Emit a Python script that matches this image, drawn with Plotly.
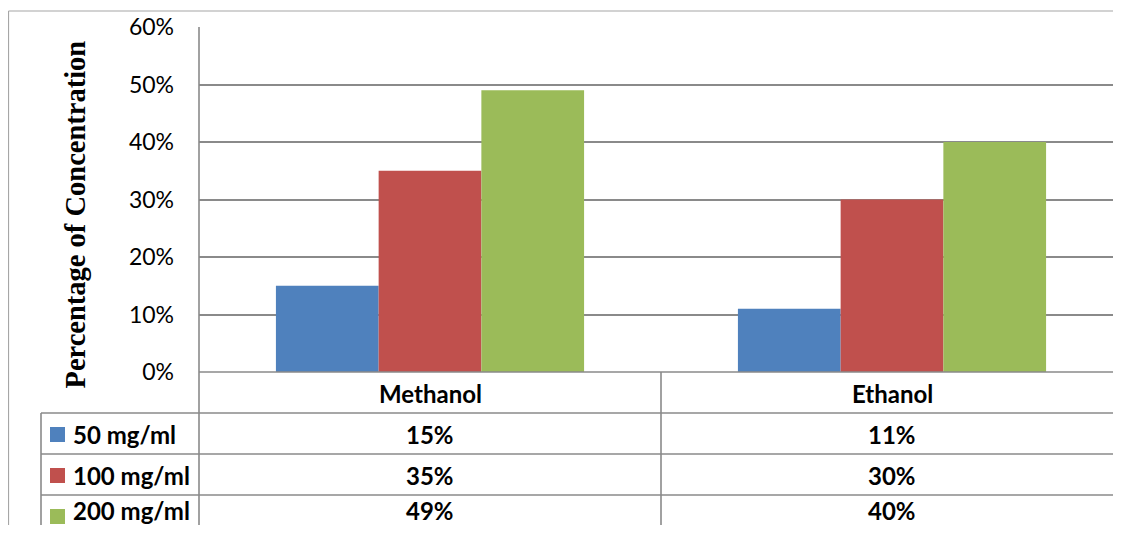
import plotly.graph_objects as go

categories = ["Methanol", "Ethanol"]
series_names = ["50 mg/ml", "100 mg/ml", "200 mg/ml"]
values_50 = [0.15, 0.11]
values_100 = [0.35, 0.30]
values_200 = [0.49, 0.40]
colors = ["#4F81BD", "#C0504D", "#9BBB59"]
y_ticks = [0, 0.1, 0.2, 0.3, 0.4, 0.5, 0.6]
y_title = "Percentage of Concentration"

series_values = [values_50, values_100, values_200]

# page body has an 8px margin; the figure is sized to fit the 1121x533 window
OFF = 8
W, H = 1121 - 2 * OFF, 533 - 2 * OFF


def px(x):
    return (x - OFF) / W


def py(y):
    return 1 - (y - OFF) / H


plot_left, plot_right = 199, 1123      # category band edges in the reference picture
plot_top, plot_bottom = 27, 372
row_lines = [372, 413, 454, 495]
table_left = 41
grid_color = "#8a8a8a"
font_sans = "Lato"
n_cat = len(categories)
cat_w = (plot_right - plot_left) / n_cat
vis_right = OFF + W
vis_bottom = OFF + H
x_max = -0.5 + (vis_right - plot_left) / cat_w

fig = go.Figure()
for name, vals, col in zip(series_names, series_values, colors):
    fig.add_trace(go.Bar(x=categories, y=vals, name=name, marker=dict(color=col, line=dict(width=0)),
                         showlegend=False))

fig.update_layout(
    width=W, height=H,
    margin=dict(l=0, r=0, t=0, b=0, autoexpand=False),
    paper_bgcolor="white", plot_bgcolor="white",
    barmode="group", bargap=0.333, bargroupgap=0,
    xaxis=dict(domain=[px(plot_left), 1], showticklabels=False, showgrid=False, automargin=False,
               zeroline=False, showline=False, ticks="", range=[-0.5, x_max]),
    yaxis=dict(domain=[py(plot_bottom), py(plot_top)], range=[0, 0.6], tickvals=y_ticks, automargin=False,
               tickformat=".0%", showgrid=True, gridcolor=grid_color, gridwidth=1.6,
               zeroline=False, showline=False, ticks="", ticklabelstandoff=24,
               tickfont=dict(family=font_sans, size=23, color="#000")),
)

shapes = []


def line(x0, y0, x1, y1, color=grid_color, width=1.6):
    shapes.append(dict(type="line", xref="paper", yref="paper", x0=px(x0), y0=py(y0), x1=px(x1), y1=py(y1),
                       line=dict(color=color, width=width), layer="above"))


R_EDGE, B_EDGE = 1125, 540
# outer chart border
line(8.5, 11, 8.5, B_EDGE, color="#a6a6a6", width=1.2)
line(8.5, 11, R_EDGE, 11, color="#a6a6a6", width=1.2)
# table lines
line(plot_left, plot_bottom, R_EDGE, plot_bottom)
for yl in row_lines[1:]:
    line(table_left, yl, R_EDGE, yl)
line(plot_left, plot_top, plot_left, B_EDGE)
line(table_left, row_lines[1], table_left, B_EDGE)
for i in range(1, n_cat):
    xd = plot_left + cat_w * i
    line(xd, plot_bottom, xd, B_EDGE)

annotations = []
# header row
for i, cat in enumerate(categories):
    cx = plot_left + cat_w * (i + 0.5)
    annotations.append(dict(x=px(cx), y=py((row_lines[0] + row_lines[1]) / 2 + 1), xref="paper", yref="paper",
                            text=f"<b>{cat}</b>", showarrow=False, xanchor="center", yanchor="middle",
                            font=dict(family=font_sans, size=24, color="#000")))
# data rows
row_h = row_lines[2] - row_lines[1]
for r, (name, vals, col) in enumerate(zip(series_names, series_values, colors)):
    top = row_lines[1] + r * row_h
    cy = top + row_h / 2
    ty = min(cy + 1, vis_bottom - 15)   # keep the last (cut) row's text inside the visible page
    shapes.append(dict(type="rect", xref="paper", yref="paper", x0=px(50), x1=px(65),
                       y0=py(cy - 6.5), y1=py(cy + 8.5), fillcolor=col, line=dict(width=0)))
    annotations.append(dict(x=px(71), y=py(ty), xref="paper", yref="paper", text=f"<b>{name}</b>",
                            showarrow=False, xanchor="left", yanchor="middle",
                            font=dict(family=font_sans, size=24, color="#000")))
    for i, v in enumerate(vals):
        cx = plot_left + cat_w * (i + 0.5)
        annotations.append(dict(x=px(cx), y=py(ty), xref="paper", yref="paper",
                                text=f"<b>{round(v * 100)}%</b>", showarrow=False, xanchor="center",
                                yanchor="middle", font=dict(family=font_sans, size=24, color="#000")))

annotations.append(dict(x=px(75), y=py(214.5), xref="paper", yref="paper", text=f"<b>{y_title}</b>",
                        textangle=-90, showarrow=False, xanchor="center", yanchor="middle",
                        font=dict(family="Liberation Serif", size=28.5, color="#000")))

fig.update_layout(shapes=shapes, annotations=annotations)
fig.write_html("out.html")
